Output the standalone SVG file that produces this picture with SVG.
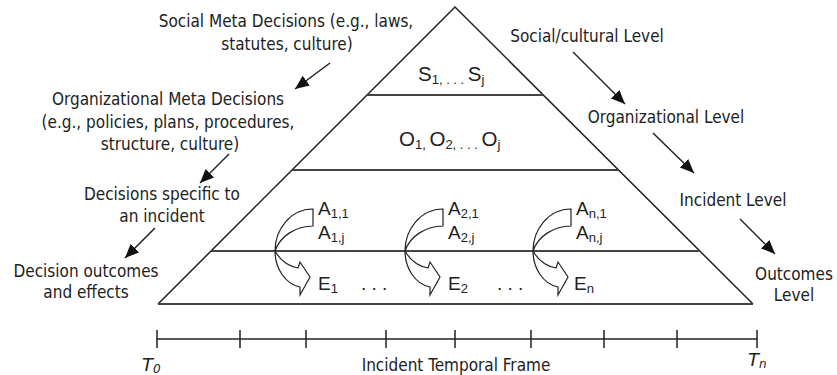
<svg xmlns="http://www.w3.org/2000/svg" width="837" height="375" viewBox="0 0 837 375">
<style>
.lbl{font-family:"DejaVu Sans Condensed","DejaVu Sans",sans-serif;font-size:17px;fill:#222;text-anchor:middle}
.var{font-family:"Liberation Sans",Arial,sans-serif;font-size:19px;fill:#222}
.big{font-size:20.5px}
.sub{font-size:13px}
.edge{stroke:#222;stroke-width:1.5;fill:none}
.lvl{stroke:#444;stroke-width:2;fill:none}
.ca{fill:#fff;stroke:#222;stroke-width:1.2}
.tick{stroke:#222;stroke-width:1.5}
</style>
<defs>
<marker id="ah" markerUnits="userSpaceOnUse" markerWidth="16" markerHeight="14" refX="14" refY="7" orient="auto">
<path d="M0,1 L14,7 L0,13 Z" fill="#111"/>
</marker>
<path id="curved" d="M38,-42 L38,-25 C21,-25 5,-15 0,0 C5,9 13,15 23,17 L25,11 L35,26 L25,44 L25,36 C10,33 0,17 0,0 C0,-21 15,-42 38,-42 Z"/>
</defs>

<g id="pyramid">
<path class="edge" d="M158,304 L455,7 L753,304"/>
<line class="lvl" x1="367" y1="95" x2="543" y2="95"/>
<line class="lvl" x1="292" y1="170" x2="618" y2="170"/>
<line class="lvl" x1="211" y1="251" x2="699" y2="251"/>
<line class="lvl" x1="158" y1="304" x2="753" y2="304"/>
</g>

<g id="social-vars">
<text class="var big" x="418" y="81">S<tspan class="sub" dy="3">1, . . . </tspan><tspan dy="-3">S</tspan><tspan class="sub" dy="3">j</tspan></text>
</g>
<g id="org-vars">
<text class="var big" x="399" y="146">O<tspan class="sub" dy="3">1, </tspan><tspan dy="-3">O</tspan><tspan class="sub" dy="3">2, . . . </tspan><tspan dy="-3">O</tspan><tspan class="sub" dy="3">j</tspan></text>
</g>

<g id="incident-1">
<use href="#curved" class="ca" x="275" y="251"/>
<text class="var" x="318" y="215">A<tspan class="sub" dy="3">1,1</tspan></text>
<text class="var" x="318" y="239">A<tspan class="sub" dy="3">1,j</tspan></text>
<text class="var" x="318" y="290">E<tspan class="sub" dy="3">1</tspan></text>
<text class="var" x="361" y="290" font-size="12">. . .</text>
</g>
<g id="incident-2">
<use href="#curved" class="ca" x="405" y="251"/>
<text class="var" x="448" y="215">A<tspan class="sub" dy="3">2,1</tspan></text>
<text class="var" x="448" y="239">A<tspan class="sub" dy="3">2,j</tspan></text>
<text class="var" x="448" y="290">E<tspan class="sub" dy="3">2</tspan></text>
<text class="var" x="497" y="290" font-size="12">. . .</text>
</g>
<g id="incident-n">
<use href="#curved" class="ca" x="533" y="251"/>
<text class="var" x="576" y="215">A<tspan class="sub" dy="3">n,1</tspan></text>
<text class="var" x="576" y="239">A<tspan class="sub" dy="3">n,j</tspan></text>
<text class="var" x="574" y="290">E<tspan class="sub" dy="3">n</tspan></text>
</g>

<g id="left-social">
<text class="lbl" x="286" y="27">Social Meta Decisions (e.g., laws,</text>
<text class="lbl" x="287" y="50">statutes, culture)</text>
</g>
<g id="left-org">
<text class="lbl" x="168" y="105">Organizational Meta Decisions</text>
<text class="lbl" x="168" y="128">(e.g., policies, plans, procedures,</text>
<text class="lbl" x="170" y="150">structure, culture)</text>
</g>
<g id="left-incident">
<text class="lbl" x="162" y="200">Decisions specific to</text>
<text class="lbl" x="162" y="222">an incident</text>
</g>
<g id="left-outcomes">
<text class="lbl" x="86" y="277">Decision outcomes</text>
<text class="lbl" x="86" y="298">and effects</text>
</g>

<g id="right-social"><text class="lbl" x="587" y="42">Social/cultural Level</text></g>
<g id="right-org"><text class="lbl" x="666" y="123">Organizational Level</text></g>
<g id="right-incident"><text class="lbl" x="733" y="206">Incident Level</text></g>
<g id="right-outcomes">
<text class="lbl" x="794" y="280">Outcomes</text>
<text class="lbl" x="794" y="301">Level</text>
</g>

<g id="connectors">
<line class="edge" x1="330" y1="63" x2="295" y2="89" marker-end="url(#ah)"/>
<line class="edge" x1="229" y1="154" x2="200" y2="183" marker-end="url(#ah)"/>
<line class="edge" x1="155" y1="228" x2="125" y2="258" marker-end="url(#ah)"/>
<line class="edge" x1="573" y1="52" x2="625" y2="104" marker-end="url(#ah)"/>
<line class="edge" x1="653" y1="133" x2="694" y2="173" marker-end="url(#ah)"/>
<line class="edge" x1="740" y1="219" x2="775" y2="254" marker-end="url(#ah)"/>
</g>

<g id="timeline">
<line class="tick" x1="157" y1="339" x2="757" y2="339"/>
<path class="tick" d="M157,330V348M240,330V348M306,330V348M386,330V348M455,330V348M531,330V348M604,330V348M677,330V348M757,330V348"/>
<text x="142" y="371" font-family="DejaVu Sans,sans-serif" font-style="italic" font-size="18" fill="#222">T<tspan font-size="12" dy="2">0</tspan></text>
<text x="456" y="371" class="lbl">Incident Temporal Frame</text>
<text x="748" y="366" font-family="DejaVu Sans,sans-serif" font-style="italic" font-size="18" fill="#222">T<tspan font-size="12" dy="2">n</tspan></text>
</g>
</svg>
